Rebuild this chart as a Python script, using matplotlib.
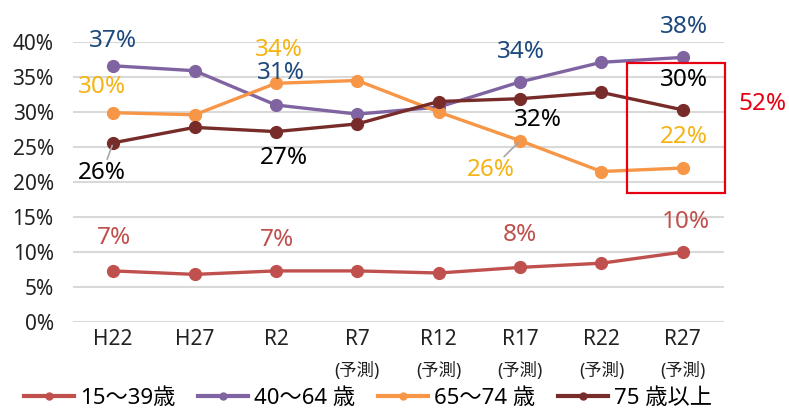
import matplotlib
matplotlib.use('Agg')
import matplotlib.pyplot as plt
from matplotlib.lines import Line2D
from matplotlib.patches import Rectangle

plt.rcParams['font.family'] = ['Noto Sans', 'Noto Sans CJK JP', 'DejaVu Sans']

#%% data
years = ['H22', 'H27', 'R2', 'R7', 'R12', 'R17', 'R22', 'R27']
forecast = [False, False, False, True, True, True, True, True]

age_15_39 = [7.3, 6.8, 7.3, 7.3, 7.0, 7.8, 8.4, 10.0]
age_40_64 = [36.6, 35.9, 31.0, 29.7, 30.7, 34.3, 37.1, 37.8]
age_65_74 = [29.9, 29.6, 34.1, 34.5, 30.0, 25.9, 21.5, 22.0]
age_75_up = [25.6, 27.8, 27.2, 28.3, 31.5, 31.9, 32.8, 30.3]

series_names = ['15～39歳', '40～64 歳', '65～74 歳', '75 歳以上']
series_vals = [age_15_39, age_40_64, age_65_74, age_75_up]
line_colors = ['#C0504D', '#8064A2', '#F79646', '#772C2A']
label_colors = ['#C0504D', '#1F497D', '#F5B416', '#000000']

# data labels: (series index, point index, text, dx px, dy px, leader)
labels = [
    (0, 0, '7%', 1, 33, False), (0, 2, '7%', 1, 31, False),
    (0, 5, '8%', 0, 32, False), (0, 7, '10%', 3, 30, False),
    (1, 0, '37%', 0, 25, False), (1, 2, '31%', 5, 32, False),
    (1, 5, '34%', 1, 30, False), (1, 7, '38%', 1, 30, False),
    (2, 0, '30%', -11, 26, False), (2, 2, '34%', 3, 33, False),
    (2, 5, '26%', -29, -29, True), (2, 7, '22%', 1, 31, False),
    (3, 0, '26%', -11, -30, True), (3, 2, '27%', 8, -26, False),
    (3, 5, '32%', 18, -21, False), (3, 7, '30%', 1, 30, False),
]
total_label = '52%'

#%% plot
fig = plt.figure(figsize=(7.89, 4.08), dpi=100)
ax = fig.add_axes([72.5/789, 1-322/408, 651/789, 280/408])

x = list(range(len(years)))
for vals, c in zip(series_vals, line_colors):
    ax.plot(x, [v/100 for v in vals], color=c, lw=2.4, marker='o', ms=8.5,
            mec=c, mfc=c, zorder=3, clip_on=False)

ax.set_xlim(-0.5, len(years)-0.5)
ax.set_ylim(0, 0.40)
ax.set_yticks([i/100 for i in range(0, 41, 5)])
ax.set_yticklabels([f'{i}%' for i in range(0, 41, 5)], fontsize=15, color='#222222')
ax.set_xticks(x)
ax.set_xticklabels(years, fontsize=15, color='#222222')
ax.tick_params(axis='y', length=0, pad=13.5)
ax.tick_params(axis='x', length=0, pad=5)
for s in ax.spines.values():
    s.set_visible(False)
ax.grid(axis='y', color='#D9D9D9', lw=1.5)
ax.set_axisbelow(True)

for xi, f in zip(x, forecast):
    if f:
        ax.annotate('(予測)', xy=(xi, 0), xycoords=('data', 'axes fraction'),
                    xytext=(0, -49*0.72), textcoords='offset points',
                    ha='center', va='center', fontsize=12.5, color='#222222')

for si, pi, txt, dx, dy, leader in labels:
    y = series_vals[si][pi]/100
    ax.annotate(txt, xy=(pi, y), xytext=(dx*0.72, dy*0.72),
                textcoords='offset points', ha='center', va='center',
                fontsize=17.5, color=label_colors[si], annotation_clip=False,
                zorder=5)
    if leader:
        ax.annotate('', xy=(pi, y), xytext=(dx*0.72*0.55, dy*0.72*0.55),
                    textcoords='offset points',
                    arrowprops=dict(arrowstyle='-', color='#A6A6A6', lw=1.2,
                                    shrinkA=0, shrinkB=2))

# highlight box around the last point
ax.add_patch(Rectangle((6.31, 0.184), 1.21, 0.186, fill=False, ec='#E60012',
                       lw=1.6, clip_on=False, zorder=4))
ax.annotate(total_label, xy=(7, age_75_up[-1]/100), xytext=(80*0.72, 6*0.72),
            textcoords='offset points', ha='center', va='center',
            fontsize=17.5, color='#E60012', annotation_clip=False)

handles = [Line2D([], [], color=c, lw=3, marker='o', ms=5) for c in line_colors]
fig.legend(handles, series_names, loc='center', bbox_to_anchor=(368/789, 1-398/408),
           ncol=4, frameon=False, fontsize=16, handlelength=2.25,
           handletextpad=0.3, columnspacing=1.0, borderaxespad=0,
           borderpad=0.1)

fig.savefig('out.png', dpi=100)
